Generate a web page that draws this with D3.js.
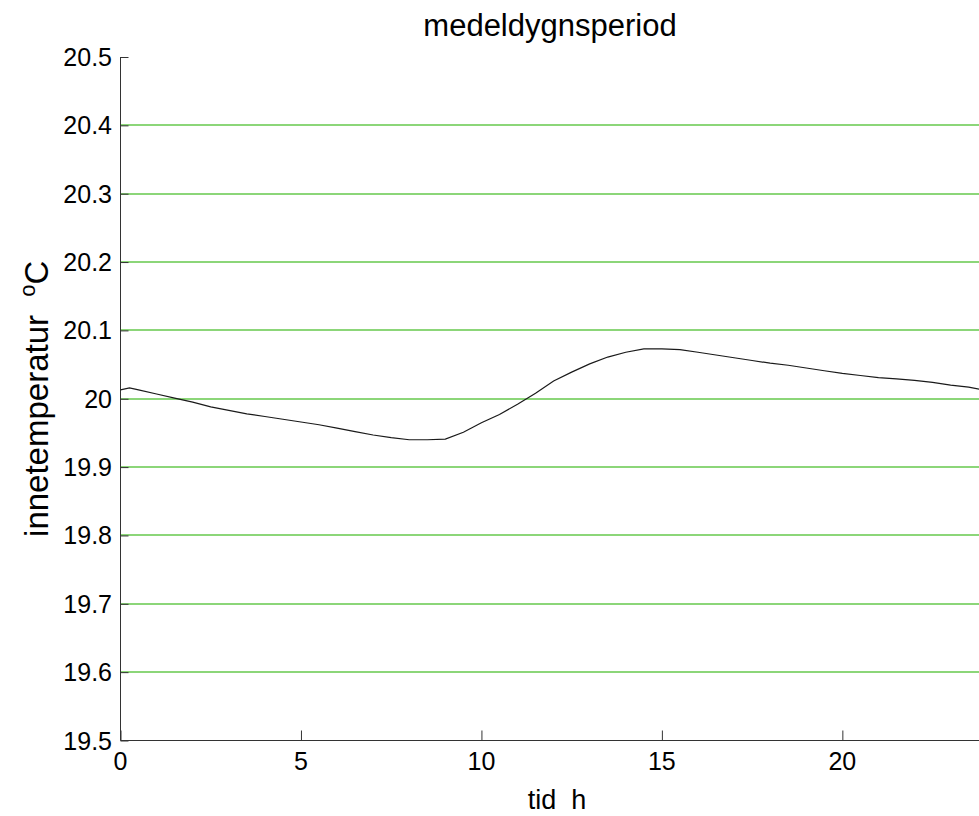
<!DOCTYPE html>
<html>
<head>
<meta charset="utf-8">
<script src="https://cdn.jsdelivr.net/npm/d3@7/dist/d3.min.js"></script>
<style>
  body { margin: 0; background: #fff; }
  svg { display: block; font-family: "Liberation Sans", Arial, sans-serif; }
</style>
</head>
<body>
<div id="chart"></div>
<script>
// hours of the day and mean indoor temperature
const hours = [0, 0.25, 0.5, 1, 1.5, 2, 2.5, 3, 3.5, 4, 4.5, 5, 5.5, 6, 6.5, 7, 7.5, 8, 8.5, 9, 9.5,
  10, 10.5, 11, 11.5, 12, 12.5, 13, 13.5, 14, 14.5, 15, 15.5, 16, 16.5, 17, 17.5, 18, 18.5, 19, 19.5,
  20, 20.5, 21, 21.5, 22, 22.5, 23, 23.5, 23.8];
const temps = [20.013, 20.016, 20.013, 20.007, 20.001, 19.995, 19.988, 19.983, 19.978, 19.974, 19.970,
  19.966, 19.962, 19.957, 19.952, 19.947, 19.943, 19.940, 19.940, 19.941, 19.951,
  19.965, 19.977, 19.992, 20.008, 20.026, 20.039, 20.051, 20.061, 20.068, 20.073,
  20.073, 20.072, 20.068, 20.064, 20.060, 20.056, 20.052, 20.049, 20.045, 20.041,
  20.037, 20.034, 20.031, 20.029, 20.027, 20.024, 20.020, 20.017, 20.014];
const xTicks = [0, 5, 10, 15, 20];
const yTicks = [19.5, 19.6, 19.7, 19.8, 19.9, 20, 20.1, 20.2, 20.3, 20.4, 20.5];

const width = 979, height = 816;
const axLeft = 120.5, axRight = 979.5, axTop = 57, axBottom = 740.5;

const svg = d3.select('#chart').append('svg')
  .attr('width', width)
  .attr('height', height);

const x = d3.scaleLinear().domain([0, 23.8]).range([axLeft, axRight]);
const y = d3.scaleLinear().domain([19.5, 20.5]).range([axBottom, axTop]);

// green grid lines
svg.append('g')
  .selectAll('line')
  .data(yTicks.filter(d => d > 19.5 && d < 20.5))
  .enter()
  .append('line')
  .attr('x1', axLeft)
  .attr('x2', axRight)
  .attr('y1', d => Math.round(y(d)))
  .attr('y2', d => Math.round(y(d)))
  .attr('stroke', '#66c94c')
  .attr('stroke-width', 1.6);

// y axis, ticks pointing inward
const yAxis = svg.append('g')
  .attr('transform', `translate(${axLeft},0)`)
  .call(d3.axisRight(y).tickValues(yTicks).tickSize(8).tickFormat(''));
yAxis.select('.domain').remove();
yAxis.append('line')
  .attr('x1', 0).attr('x2', 0)
  .attr('y1', axTop).attr('y2', axBottom)
  .attr('stroke', '#333');
yAxis.selectAll('.tick line').attr('stroke', '#333');

svg.append('g')
  .selectAll('text')
  .data(yTicks)
  .enter()
  .append('text')
  .attr('x', 112)
  .attr('y', d => y(d))
  .attr('dy', '0.36em')
  .attr('text-anchor', 'end')
  .attr('font-size', 25)
  .text(d => d3.format('.1f')(d).replace(/\.0$/, ''));

// x axis, ticks pointing up
const xAxis = svg.append('g')
  .attr('transform', `translate(0,${axBottom})`)
  .call(d3.axisTop(x).tickValues(xTicks).tickSize(10).tickFormat(''));
xAxis.select('.domain').remove();
xAxis.append('line')
  .attr('x1', axLeft).attr('x2', axRight)
  .attr('y1', 0).attr('y2', 0)
  .attr('stroke', '#333');
xAxis.selectAll('.tick line').attr('stroke', '#333');

svg.append('g')
  .selectAll('text')
  .data(xTicks)
  .enter()
  .append('text')
  .attr('x', d => x(d))
  .attr('y', 770)
  .attr('text-anchor', 'middle')
  .attr('font-size', 25)
  .text(d => d);

// the curve
const line = d3.line()
  .x(d => x(d[0]))
  .y(d => y(d[1]));

svg.append('path')
  .datum(hours.map((h, i) => [h, temps[i]]))
  .attr('d', line)
  .attr('fill', 'none')
  .attr('stroke', '#1a1a1a')
  .attr('stroke-width', 1.2);

// labels
svg.append('text')
  .attr('x', (axLeft + axRight) / 2)
  .attr('y', 36)
  .attr('text-anchor', 'middle')
  .attr('font-size', 31)
  .text('medeldygnsperiod');

svg.append('text')
  .attr('x', (axLeft + axRight) / 2 + 7)
  .attr('y', 809)
  .attr('text-anchor', 'middle')
  .attr('font-size', 27)
  .attr('xml:space', 'preserve')
  .text('tid  h');

const yl = svg.append('text')
  .attr('transform', `translate(48,${(axTop + axBottom) / 2}) rotate(-90)`)
  .attr('text-anchor', 'middle')
  .attr('font-size', 33)
  .attr('xml:space', 'preserve');
yl.append('tspan').text('innetemperatur  ');
yl.append('tspan').attr('font-size', 22).attr('dy', -13).text('o');
yl.append('tspan').attr('dy', 13).text('C');
</script>
</body>
</html>
